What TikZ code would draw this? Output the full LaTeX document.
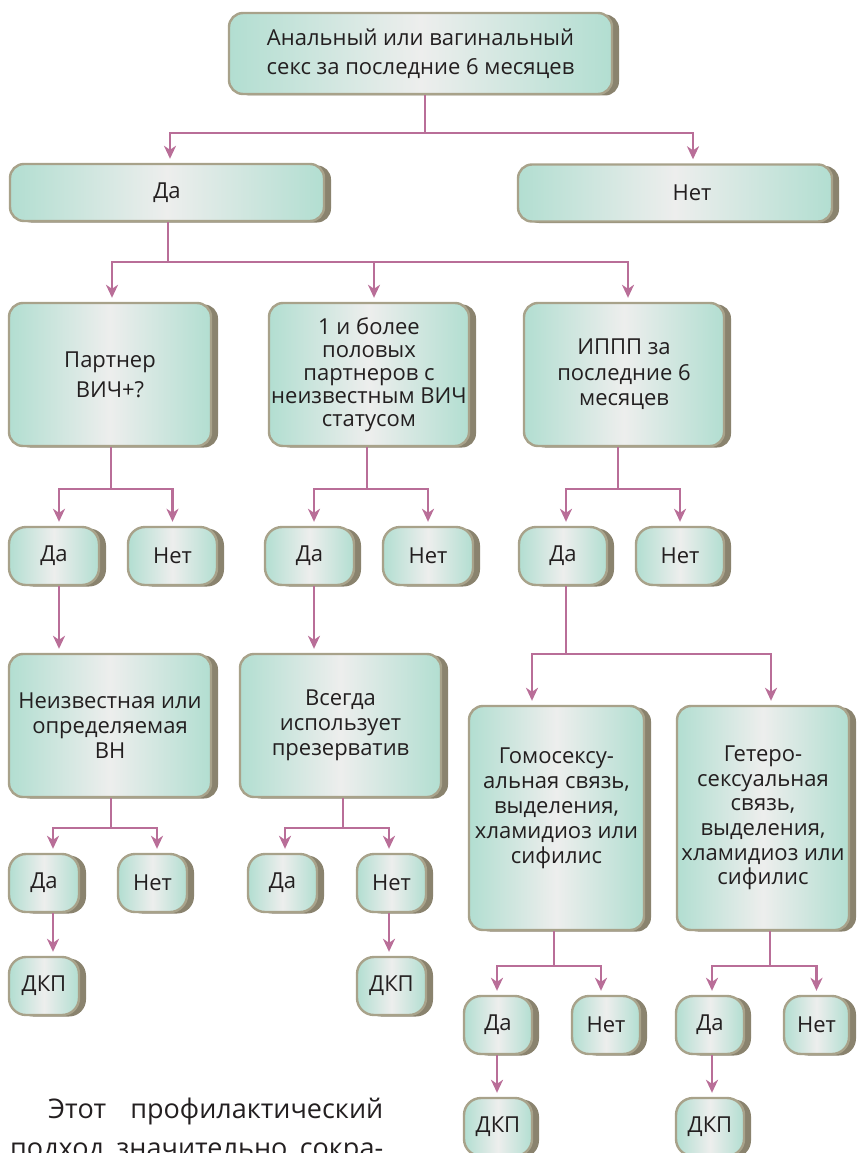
\documentclass[tikz,border=0pt]{standalone}
\usepackage{fontspec}
\setmainfont{Open Sans}
\usetikzlibrary{arrows.meta}
\definecolor{teal1}{HTML}{B2DED1}
\definecolor{mid1}{HTML}{EDEEED}
\definecolor{bord}{HTML}{A8A28A}
\definecolor{shad}{HTML}{8A836E}
\definecolor{arrc}{HTML}{B96E98}
\definecolor{txtc}{HTML}{231F20}
\tikzset{
  box/.style={draw=bord, line width=2.4pt, rounded corners=14pt,
    left color=teal1, right color=teal1, middle color=mid1,
    inner sep=0pt, align=center, text=txtc,
    font=\fontsize{22}{25}\selectfont,
    preaction={fill=shad, transform canvas={xshift=7pt,yshift=-1.5pt}}},
  sbox/.style={box, rounded corners=17pt, minimum width=#1, minimum height=58pt},
  sbox/.default=90pt,
  conn/.style={draw=arrc, line width=2.4pt},
  arrow/.style={conn, -{Stealth[length=13pt,width=12pt,inset=4pt]}, shorten >=4pt},
  para/.style={anchor=base west, inner sep=0pt, text=txtc, font=\fontsize{27}{39}\selectfont},
}
\begin{document}
\begin{tikzpicture}[x=1pt,y=-1pt]
\useasboundingbox (0,0) rectangle (857,1153);
\clip (0,0) rectangle (857,1153);

% level 0
\node[box, minimum width=383pt, minimum height=81pt, font=\fontsize{22}{29}\selectfont] (top) at (420.5,53.5) {Анальный или вагинальный\\секс за последние 6 месяцев};
% level 1
\node[box, minimum width=314pt, minimum height=57pt] (yes1) at (167,192.5) {Да};
\node[box, minimum width=314pt, minimum height=57pt] (no1) at (675,193) {\hspace*{34pt}Нет};
% level 2
\node[box, minimum width=202pt, minimum height=143pt, font=\fontsize{22}{30}\selectfont] (partner) at (110,374.5) {Партнер\\ВИЧ+?};
\node[box, minimum width=200pt, minimum height=143pt, font=\fontsize{22}{23}\selectfont] (many) at (369,374.5) {1 и более\\половых\\партнеров с\\неизвестным ВИЧ\\статусом};
\node[box, minimum width=200pt, minimum height=143pt, font=\fontsize{22}{25.5}\selectfont] (stii) at (624,374.5) {ИППП за\\последние 6\\месяцев};
% level 3
\node[sbox=90pt] (y21) at (54,556) {Да};
\node[sbox=89pt] (n21) at (172.5,556) {Нет};
\node[sbox=89pt] (y22) at (309.5,556) {Да};
\node[sbox=90pt] (n22) at (428,556) {Нет};
\node[sbox=88pt] (y23) at (563,556) {Да};
\node[sbox=88pt] (n23) at (680,556) {Нет};
% level 4
\node[box, minimum width=202pt, minimum height=143pt] (unk) at (110,725.5) {Неизвестная или\\определяемая\\ВН};
\node[box, minimum width=201pt, minimum height=143pt] (cond) at (340.5,725.5) {Всегда\\использует\\презерватив};
\node[box, minimum width=175pt, minimum height=224pt] (homo) at (556.5,818) {Гомосексу-\\альная связь,\\выделения,\\хламидиоз или\\сифилис\\\mbox{}};
\node[box, minimum width=172pt, minimum height=224pt, font=\fontsize{22}{24.6}\selectfont] (hetero) at (763,818) {Гетеро-\\сексуальная\\связь,\\выделения,\\хламидиоз или\\сифилис};
% level 5
\node[sbox=70pt] (y31) at (44,883) {Да};
\node[sbox=69pt] (n31) at (152.5,883) {Нет};
\node[sbox=69pt] (y32) at (282.5,883) {Да};
\node[sbox=69pt] (n32) at (391.5,883) {Нет};
\node[sbox=70pt] (d31) at (44,986) {ДКП};
\node[sbox=69pt] (d32) at (391.5,986) {ДКП};
\node[sbox=68pt] (y41) at (498,1025) {Да};
\node[sbox=68pt] (n41) at (606,1025) {Нет};
\node[sbox=68pt] (y42) at (710,1025) {Да};
\node[sbox=65pt] (n42) at (816.5,1025) {Нет};
\node[sbox=68pt] (d41) at (498,1127) {ДКП};
\node[sbox=68pt] (d42) at (710,1127) {ДКП};

% connectors
\draw[arrow] ([xshift=4.5pt]top.south) -- ++(0,38) -| ([xshift=3pt]yes1.north);
\draw[arrow] ([xshift=4.5pt]top.south) -- ++(0,38) -| ([xshift=18pt]no1.north);

\draw[arrow] ([xshift=1pt]yes1.south) -- ++(0,40) -| ([xshift=2pt]partner.north);
\draw[arrow] ([xshift=1pt]yes1.south) -- ++(0,40) -| ([xshift=5pt]many.north);
\draw[arrow] ([xshift=1pt]yes1.south) -- ++(0,40) -| ([xshift=4pt]stii.north);

\draw[arrow] ([xshift=1pt]partner.south) -- ++(0,42) -| ([xshift=5pt]y21.north);
\draw[arrow] ([xshift=1pt]partner.south) -- ++(0,42) -| (n21.north);
\draw[arrow] ([xshift=-2pt]many.south) -- ++(0,42) -| ([xshift=4.5pt]y22.north);
\draw[arrow] ([xshift=-2pt]many.south) -- ++(0,42) -| (n22.north);
\draw[arrow] ([xshift=-6pt]stii.south) -- ++(0,42) -| ([xshift=3pt]y23.north);
\draw[arrow] ([xshift=-6pt]stii.south) -- ++(0,42) -| (n23.north);

\draw[arrow] ([xshift=5pt]y21.south) -- ([xshift=-51pt]unk.north);
\draw[arrow] ([xshift=4.5pt]y22.south) -- ([xshift=-26.5pt]cond.north);
\draw[arrow] ([xshift=3pt]y23.south) -- ++(0,68) -| ([xshift=-24.5pt]homo.north);
\draw[arrow] ([xshift=3pt]y23.south) -- ++(0,68) -| ([xshift=8pt]hetero.north);

\draw[arrow] ([xshift=1pt]unk.south) -- ++(0,30) -| ([xshift=9pt]y31.north);
\draw[arrow] ([xshift=1pt]unk.south) -- ++(0,30) -| ([xshift=4.5pt]n31.north);
\draw[arrow] ([xshift=2.5pt]cond.south) -- ++(0,30) -| ([xshift=2.5pt]y32.north);
\draw[arrow] ([xshift=2.5pt]cond.south) -- ++(0,30) -| ([xshift=-2.5pt]n32.north);
\draw[arrow] ([xshift=9pt]y31.south) -- ([xshift=9pt]d31.north);
\draw[arrow] ([xshift=-2.5pt]n32.south) -- ([xshift=-2.5pt]d32.north);

\draw[arrow] ([xshift=-2.5pt]homo.south) -- ++(0,35) -| ([xshift=-1pt]y41.north);
\draw[arrow] ([xshift=-2.5pt]homo.south) -- ++(0,35) -| ([xshift=-5pt]n41.north);
\draw[arrow] ([xshift=7pt]hetero.south) -- ++(0,35) -| ([xshift=2pt]y42.north);
\draw[arrow] ([xshift=7pt]hetero.south) -- ++(0,35) -| (n42.north);
\draw[arrow] ([xshift=-1pt]y41.south) -- ([xshift=-1pt]d41.north);
\draw[arrow] ([xshift=2pt]y42.south) -- ([xshift=2pt]d42.north);

% paragraph text
\node[para] (p1) at (10,1118) {\makebox[373pt][l]{\hspace*{38pt}Этот\hfill профилактический}};
\node[para] (p2) at (10,1157) {\makebox[373pt][l]{подход\hfill значительно\hfill сокра-}};
\end{tikzpicture}
\end{document}
